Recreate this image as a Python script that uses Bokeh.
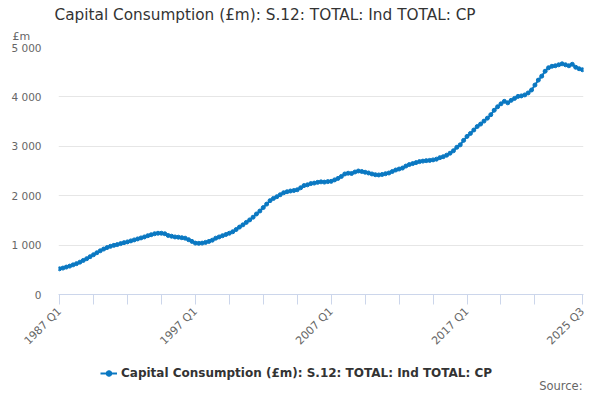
import math
from bokeh.plotting import figure
from bokeh.layouts import column
from bokeh.models import (ColumnDataSource, FixedTicker, Label, Legend, LegendItem,
                          Range1d, Title)
from bokeh.embed import file_html
from bokeh.resources import INLINE

# ---- data (quarterly, 1987 Q1 .. 2025 Q3), £m ----
values = [
    520, 535, 555, 575, 600, 625, 655, 690, 725, 765,
    805, 845, 885, 920, 950, 975, 995, 1010, 1030, 1050,
    1065, 1085, 1105, 1125, 1145, 1165, 1190, 1210, 1230, 1240,
    1240, 1230, 1195, 1180, 1165, 1160, 1150, 1140, 1110, 1075,
    1040, 1035, 1040, 1055, 1075, 1100, 1140, 1165, 1190, 1215,
    1240, 1270, 1315, 1365, 1410, 1460, 1510, 1565, 1630, 1690,
    1760, 1830, 1900, 1945, 1980, 2020, 2060, 2080, 2095, 2105,
    2120, 2160, 2205, 2220, 2245, 2255, 2270, 2280, 2275, 2285,
    2290, 2320, 2350, 2390, 2440, 2455, 2450, 2480, 2500, 2490,
    2475, 2460, 2440, 2425, 2420, 2430, 2445, 2460, 2490, 2520,
    2540, 2560, 2600, 2630, 2650, 2670, 2690, 2700, 2710, 2715,
    2725, 2740, 2770, 2790, 2820, 2860, 2910, 2980, 3030, 3120,
    3200, 3260, 3330, 3400, 3450, 3510, 3570, 3640, 3730, 3800,
    3860, 3910, 3880, 3930, 3970, 4010, 4020, 4040, 4080, 4140,
    4240, 4340, 4420, 4520, 4590, 4620, 4630, 4650, 4670, 4650,
    4630, 4660, 4600, 4570, 4550,
]
quarters = [f"{1987 + i // 4} Q{i % 4 + 1}" for i in range(len(values))]
label_quarters = ["1987 Q1", "1997 Q1", "2007 Q1", "2017 Q1", "2025 Q3"]
y_ticks = [0, 1000, 2000, 3000, 4000, 5000]
y_tick_labels = ["0", "1 000", "2 000", "3 000", "4 000", "5 000"]
series_name = "Capital Consumption (£m): S.12: TOTAL: Ind TOTAL: CP"
title_text = "Capital Consumption (£m): S.12: TOTAL: Ind TOTAL: CP"
source_text = "Source:"
unit_text = "£m"

idx = list(range(len(values)))
src = ColumnDataSource(dict(x=idx, y=values, q=quarters))

FONT = "DejaVu Sans"
BLUE = "#0a78c2"
W = 592

# ---------- main chart ----------
p = figure(width=W, height=355, output_backend="svg", toolbar_location=None,
           x_range=Range1d(-0.3, len(values) - 1 + 0.3), y_range=Range1d(0, 5000),
           min_border_left=58, min_border_right=9, min_border_top=47,
           min_border_bottom=58, outline_line_color=None)
p.title.visible = False

r_line = p.line("x", "y", source=src, line_color=BLUE, line_width=2)
r_pts = p.scatter("x", "y", source=src, size=4, fill_color=BLUE, line_color=BLUE)

tick_pos = list(range(0, 141, 10)) + [len(values) - 1]
p.xaxis.ticker = FixedTicker(ticks=tick_pos)
overrides = {}
for t in tick_pos:
    overrides[t] = quarters[t] if quarters[t] in label_quarters else ""
p.xaxis.major_label_overrides = overrides
p.xaxis.major_label_orientation = math.pi / 4
p.xaxis.axis_line_color = "#ccd6eb"
p.xaxis.major_tick_line_color = "#ccd6eb"
p.xaxis.major_tick_in = 0
p.xaxis.major_tick_out = 10
p.xaxis.minor_tick_line_color = None
p.xaxis.major_label_text_font = FONT
p.xaxis.major_label_text_font_size = "11px"
p.xaxis.major_label_text_color = "#666666"
p.xaxis.major_label_standoff = 5
p.xgrid.grid_line_color = None

p.yaxis.ticker = FixedTicker(ticks=y_ticks)
p.yaxis.major_label_overrides = dict(zip(y_ticks, y_tick_labels))
p.yaxis.axis_line_color = None
p.yaxis.major_tick_line_color = None
p.yaxis.major_tick_in = 0
p.yaxis.major_tick_out = 0
p.yaxis.minor_tick_line_color = None
p.yaxis.major_label_text_font = FONT
p.yaxis.major_label_text_font_size = "10.5px"
p.yaxis.major_label_text_color = "#666666"
p.yaxis.major_label_standoff = 17
p.ygrid.grid_line_color = "#e6e6e6"

# unit label and main title above the plot
p.add_layout(Title(text=unit_text, align="left", offset=-46,
                   text_font=FONT, text_font_size="11px", text_color="#666666",
                   text_font_style="normal", standoff=9), "above")
p.add_layout(Title(text=title_text, align="left", offset=-4,
                   text_font=FONT, text_font_size="15.3px", text_color="#333333",
                   text_font_style="normal", standoff=0), "above")

# ---------- footer strip: legend and source ----------
# the series is drawn here too but kept outside the visible range, so only
# its legend entry shows
p_leg = figure(width=W, height=37, output_backend="svg", toolbar_location=None,
               x_range=Range1d(-20, -10), y_range=Range1d(-2, -1),
               x_axis_location=None, y_axis_location=None,
               min_border_left=0, min_border_right=0, min_border_top=0,
               min_border_bottom=0, outline_line_color=None)
p_leg.title.visible = False
p_leg.grid.visible = False
l_line = p_leg.line("x", "y", source=src, line_color=BLUE, line_width=2)
l_pts = p_leg.scatter("x", "y", source=src, size=4, fill_color=BLUE, line_color=BLUE)
legend = Legend(items=[LegendItem(label=series_name, renderers=[l_line, l_pts])],
                location=(42, 12), orientation="horizontal",
                label_text_font=FONT, label_text_font_size="12px",
                label_text_font_style="bold", label_text_color="#333333",
                glyph_width=17, glyph_height=14, label_standoff=4,
                padding=0, margin=0, border_line_color=None,
                background_fill_alpha=0)
p_leg.add_layout(legend, "center")
p_leg.add_layout(Label(x=524, y=0, x_units="screen", y_units="screen", text=source_text,
                       text_font=FONT, text_font_size="11.5px", text_color="#666666",
                       text_baseline="bottom", text_align="right"))

layout = column(p, p_leg, spacing=0)
open("out.html", "w").write(file_html(layout, INLINE))
